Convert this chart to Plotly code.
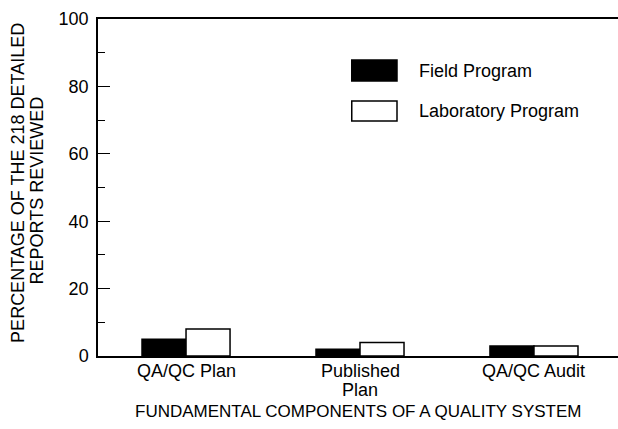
import plotly.graph_objects as go

categories = ["QA/QC Plan", "Published<br>Plan", "QA/QC Audit"]
series_names = ["Field Program", "Laboratory Program"]
field_pct = [5, 2, 3]
lab_pct = [8, 4, 3]
y_ticks = [0, 20, 40, 60, 80, 100]

FONT = "Liberation Sans, Arial, Helvetica, sans-serif"
x_pos = list(range(len(categories)))

fig = go.Figure()
fig.add_trace(go.Bar(x=x_pos, y=field_pct, name=series_names[0],
                     marker=dict(color="black", line=dict(color="black", width=1.5))))
fig.add_trace(go.Bar(x=x_pos, y=lab_pct, name=series_names[1],
                     marker=dict(color="white", line=dict(color="black", width=1.5))))

fig.update_layout(
    width=618, height=429,
    margin=dict(l=98, r=0, t=19, b=73),
    paper_bgcolor="white", plot_bgcolor="white",
    font=dict(family=FONT, size=18, color="black"),
    barmode="group", bargap=0.494, bargroupgap=0,
    showlegend=False,
    xaxis=dict(
        range=[-0.506, 2.483], tickmode="array", tickvals=x_pos,
        showticklabels=False,
        showline=True, linecolor="black", linewidth=1.5, mirror=True,
        ticks="", showgrid=False, zeroline=False,
    ),
    yaxis=dict(
        range=[0, 100], tickvals=y_ticks, ticks="inside", ticklen=12, tickwidth=1,
        tickcolor="black", ticklabelstandoff=4,
        minor=dict(dtick=10, ticks="inside", ticklen=7, tickwidth=1, tickcolor="black"),
        showline=True, linecolor="black", linewidth=1.5,
        showgrid=False, zeroline=False,
    ),
    yaxis2=dict(
        overlaying="y", side="right", range=[0, 100], tickvals=y_ticks,
        ticks="inside", ticklen=8, tickwidth=1, tickcolor="black",
        showticklabels=False, showline=False, showgrid=False, zeroline=False,
    ),
)

# category labels, one annotation per line so the line spacing stays tight
for xi, label in zip(x_pos, categories):
    for i, line in enumerate(label.split("<br>")):
        fig.add_annotation(text=line, xref="x", yref="paper", x=xi, y=0,
                           yshift=-15 - 19 * i, showarrow=False,
                           xanchor="center", yanchor="middle")

# axis titles
fig.add_annotation(text="PERCENTAGE OF THE 218 DETAILED", textangle=-90,
                   xref="paper", yref="paper", x=-0.153, y=0.515,
                   showarrow=False, xanchor="center", yanchor="middle")
fig.add_annotation(text="REPORTS REVIEWED", textangle=-90,
                   xref="paper", yref="paper", x=-0.118, y=0.49,
                   showarrow=False, xanchor="center", yanchor="middle")
fig.add_annotation(text="FUNDAMENTAL COMPONENTS OF A QUALITY SYSTEM",
                   xref="paper", yref="paper", x=0.5, y=-0.165,
                   font=dict(size=17),
                   showarrow=False, xanchor="center", yanchor="middle")

# legend drawn as boxes and labels
legend_fill = ["black", "white"]
legend_y = [(0.816, 0.878), (0.697, 0.757)]
for name, fill, (y0, y1) in zip(series_names, legend_fill, legend_y):
    fig.add_shape(type="rect", xref="paper", yref="paper",
                  x0=0.488, x1=0.575, y0=y0, y1=y1,
                  fillcolor=fill, line=dict(color="black", width=1.5))
    fig.add_annotation(text=name, xref="paper", yref="paper",
                       x=0.613, y=(y0 + y1) / 2, showarrow=False,
                       xanchor="left", yanchor="middle")

fig.write_html("out.html", config={"displayModeBar": False},
               post_script="document.body.style.margin='0';")
